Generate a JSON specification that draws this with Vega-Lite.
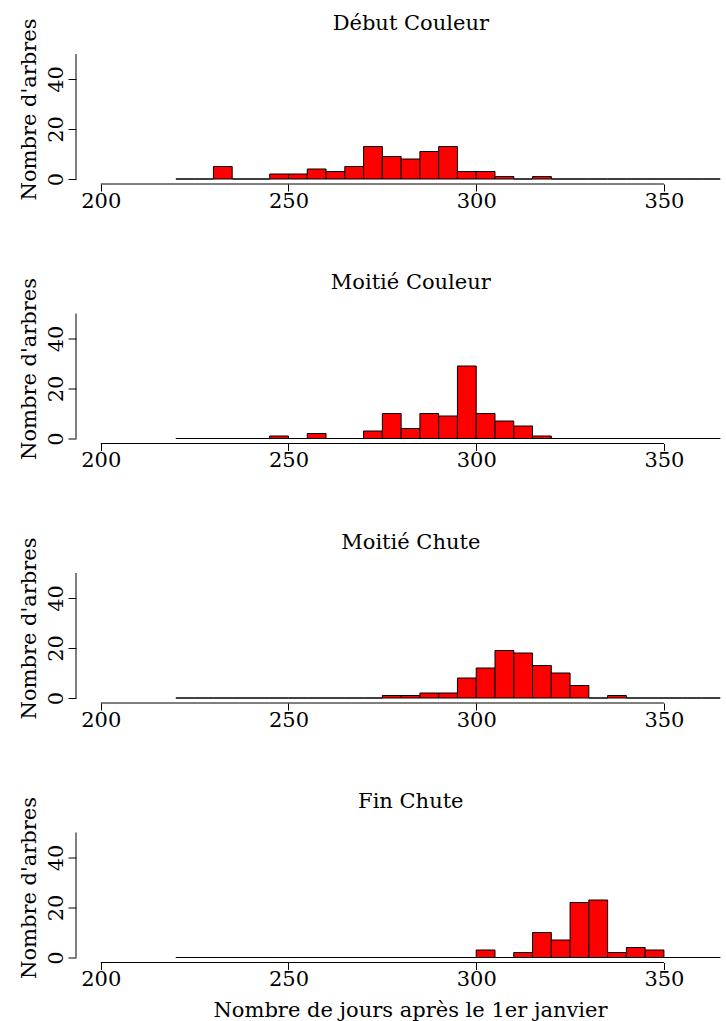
{
  "$schema": "https://vega.github.io/schema/vega-lite/v6.json",
  "background": "white",
  "padding": {"left": 17, "top": 12, "right": 0, "bottom": 0},
  "bounds": "flush",
  "spacing": 124.5,
  "config": {
    "view": {"stroke": null},
    "font": "DejaVu Serif",
    "title": {"font": "DejaVu Serif", "fontSize": 21, "fontWeight": "normal", "color": "black", "frame": "group", "dx": 10.8, "offset": -15.7, "baseline": "alphabetic"},
    "axis": {"domain": false, "grid": false, "tickColor": "black", "tickWidth": 1, "labelFont": "DejaVu Serif", "labelFontSize": 21, "labelColor": "black", "titleFont": "DejaVu Serif", "titleFontSize": 21, "titleFontWeight": "normal", "titleColor": "black", "labelOverlap": false, "labelFlush": false}
  },
  "data": {"values": [
    {"p":"Début Couleur","b":220,"e":225,"n":0},{"p":"Début Couleur","b":225,"e":230,"n":0},{"p":"Début Couleur","b":230,"e":235,"n":5},{"p":"Début Couleur","b":235,"e":240,"n":0},{"p":"Début Couleur","b":240,"e":245,"n":0},{"p":"Début Couleur","b":245,"e":250,"n":2},{"p":"Début Couleur","b":250,"e":255,"n":2},{"p":"Début Couleur","b":255,"e":260,"n":4},{"p":"Début Couleur","b":260,"e":265,"n":3},{"p":"Début Couleur","b":265,"e":270,"n":5},{"p":"Début Couleur","b":270,"e":275,"n":13},{"p":"Début Couleur","b":275,"e":280,"n":9},{"p":"Début Couleur","b":280,"e":285,"n":8},{"p":"Début Couleur","b":285,"e":290,"n":11},{"p":"Début Couleur","b":290,"e":295,"n":13},{"p":"Début Couleur","b":295,"e":300,"n":3},{"p":"Début Couleur","b":300,"e":305,"n":3},{"p":"Début Couleur","b":305,"e":310,"n":1},{"p":"Début Couleur","b":310,"e":315,"n":0},{"p":"Début Couleur","b":315,"e":320,"n":1},{"p":"Début Couleur","b":320,"e":325,"n":0},{"p":"Début Couleur","b":325,"e":330,"n":0},{"p":"Début Couleur","b":330,"e":335,"n":0},{"p":"Début Couleur","b":335,"e":340,"n":0},{"p":"Début Couleur","b":340,"e":345,"n":0},{"p":"Début Couleur","b":345,"e":350,"n":0},{"p":"Début Couleur","b":350,"e":355,"n":0},{"p":"Début Couleur","b":355,"e":360,"n":0},{"p":"Début Couleur","b":360,"e":365,"n":0},
    {"p":"Moitié Couleur","b":220,"e":225,"n":0},{"p":"Moitié Couleur","b":225,"e":230,"n":0},{"p":"Moitié Couleur","b":230,"e":235,"n":0},{"p":"Moitié Couleur","b":235,"e":240,"n":0},{"p":"Moitié Couleur","b":240,"e":245,"n":0},{"p":"Moitié Couleur","b":245,"e":250,"n":1},{"p":"Moitié Couleur","b":250,"e":255,"n":0},{"p":"Moitié Couleur","b":255,"e":260,"n":2},{"p":"Moitié Couleur","b":260,"e":265,"n":0},{"p":"Moitié Couleur","b":265,"e":270,"n":0},{"p":"Moitié Couleur","b":270,"e":275,"n":3},{"p":"Moitié Couleur","b":275,"e":280,"n":10},{"p":"Moitié Couleur","b":280,"e":285,"n":4},{"p":"Moitié Couleur","b":285,"e":290,"n":10},{"p":"Moitié Couleur","b":290,"e":295,"n":9},{"p":"Moitié Couleur","b":295,"e":300,"n":29},{"p":"Moitié Couleur","b":300,"e":305,"n":10},{"p":"Moitié Couleur","b":305,"e":310,"n":7},{"p":"Moitié Couleur","b":310,"e":315,"n":5},{"p":"Moitié Couleur","b":315,"e":320,"n":1},{"p":"Moitié Couleur","b":320,"e":325,"n":0},{"p":"Moitié Couleur","b":325,"e":330,"n":0},{"p":"Moitié Couleur","b":330,"e":335,"n":0},{"p":"Moitié Couleur","b":335,"e":340,"n":0},{"p":"Moitié Couleur","b":340,"e":345,"n":0},{"p":"Moitié Couleur","b":345,"e":350,"n":0},{"p":"Moitié Couleur","b":350,"e":355,"n":0},{"p":"Moitié Couleur","b":355,"e":360,"n":0},{"p":"Moitié Couleur","b":360,"e":365,"n":0},
    {"p":"Moitié Chute","b":220,"e":225,"n":0},{"p":"Moitié Chute","b":225,"e":230,"n":0},{"p":"Moitié Chute","b":230,"e":235,"n":0},{"p":"Moitié Chute","b":235,"e":240,"n":0},{"p":"Moitié Chute","b":240,"e":245,"n":0},{"p":"Moitié Chute","b":245,"e":250,"n":0},{"p":"Moitié Chute","b":250,"e":255,"n":0},{"p":"Moitié Chute","b":255,"e":260,"n":0},{"p":"Moitié Chute","b":260,"e":265,"n":0},{"p":"Moitié Chute","b":265,"e":270,"n":0},{"p":"Moitié Chute","b":270,"e":275,"n":0},{"p":"Moitié Chute","b":275,"e":280,"n":1},{"p":"Moitié Chute","b":280,"e":285,"n":1},{"p":"Moitié Chute","b":285,"e":290,"n":2},{"p":"Moitié Chute","b":290,"e":295,"n":2},{"p":"Moitié Chute","b":295,"e":300,"n":8},{"p":"Moitié Chute","b":300,"e":305,"n":12},{"p":"Moitié Chute","b":305,"e":310,"n":19},{"p":"Moitié Chute","b":310,"e":315,"n":18},{"p":"Moitié Chute","b":315,"e":320,"n":13},{"p":"Moitié Chute","b":320,"e":325,"n":10},{"p":"Moitié Chute","b":325,"e":330,"n":5},{"p":"Moitié Chute","b":330,"e":335,"n":0},{"p":"Moitié Chute","b":335,"e":340,"n":1},{"p":"Moitié Chute","b":340,"e":345,"n":0},{"p":"Moitié Chute","b":345,"e":350,"n":0},{"p":"Moitié Chute","b":350,"e":355,"n":0},{"p":"Moitié Chute","b":355,"e":360,"n":0},{"p":"Moitié Chute","b":360,"e":365,"n":0},
    {"p":"Fin Chute","b":220,"e":225,"n":0},{"p":"Fin Chute","b":225,"e":230,"n":0},{"p":"Fin Chute","b":230,"e":235,"n":0},{"p":"Fin Chute","b":235,"e":240,"n":0},{"p":"Fin Chute","b":240,"e":245,"n":0},{"p":"Fin Chute","b":245,"e":250,"n":0},{"p":"Fin Chute","b":250,"e":255,"n":0},{"p":"Fin Chute","b":255,"e":260,"n":0},{"p":"Fin Chute","b":260,"e":265,"n":0},{"p":"Fin Chute","b":265,"e":270,"n":0},{"p":"Fin Chute","b":270,"e":275,"n":0},{"p":"Fin Chute","b":275,"e":280,"n":0},{"p":"Fin Chute","b":280,"e":285,"n":0},{"p":"Fin Chute","b":285,"e":290,"n":0},{"p":"Fin Chute","b":290,"e":295,"n":0},{"p":"Fin Chute","b":295,"e":300,"n":0},{"p":"Fin Chute","b":300,"e":305,"n":3},{"p":"Fin Chute","b":305,"e":310,"n":0},{"p":"Fin Chute","b":310,"e":315,"n":2},{"p":"Fin Chute","b":315,"e":320,"n":10},{"p":"Fin Chute","b":320,"e":325,"n":7},{"p":"Fin Chute","b":325,"e":330,"n":22},{"p":"Fin Chute","b":330,"e":335,"n":23},{"p":"Fin Chute","b":335,"e":340,"n":2},{"p":"Fin Chute","b":340,"e":345,"n":4},{"p":"Fin Chute","b":345,"e":350,"n":3},{"p":"Fin Chute","b":350,"e":355,"n":0},{"p":"Fin Chute","b":355,"e":360,"n":0},{"p":"Fin Chute","b":360,"e":365,"n":0}
  ]},
  "vconcat": [
    {
      "title": "Début Couleur",
      "width": 648, "height": 135,
      "layer": [
        {"transform": [{"filter": "datum.p === 'Début Couleur'"}],
         "mark": {"type": "rect", "fill": "#ff0000", "stroke": "black", "strokeWidth": 1},
         "encoding": {
           "x": {"field": "b", "type": "quantitative", "scale": {"domain": [193.4, 366.0], "nice": false, "zero": false}, "axis": {"values": [200, 250, 300, 350], "tickSize": 7, "labelPadding": -1, "title": null}},
           "x2": {"field": "e"},
           "y": {"field": "n", "type": "quantitative", "scale": {"domain": [-2, 52], "nice": false, "zero": false}, "axis": {"values": [0, 10, 20, 30, 40, 50], "tickSize": 8, "labelAngle": -90, "labelAlign": "center", "labelBaseline": "alphabetic", "labelPadding": 6, "labelExpr": "datum.value % 20 === 0 && datum.value < 50 ? datum.label : ''", "title": "Nombre d'arbres", "titlePadding": 6, "titleY": 60}},
           "y2": {"datum": 0}
         }},
        {"data": {"values": [{}]}, "mark": {"type": "rule", "color": "black", "strokeWidth": 1}, "encoding": {"x": {"datum": 200}, "x2": {"datum": 350}, "y": {"datum": -2}}},
        {"data": {"values": [{}]}, "mark": {"type": "rule", "color": "black", "strokeWidth": 1}, "encoding": {"x": {"datum": 193.4}, "y": {"datum": 0}, "y2": {"datum": 50}}}
      ]
    },
    {
      "title": "Moitié Couleur",
      "width": 648, "height": 135,
      "layer": [
        {"transform": [{"filter": "datum.p === 'Moitié Couleur'"}],
         "mark": {"type": "rect", "fill": "#ff0000", "stroke": "black", "strokeWidth": 1},
         "encoding": {
           "x": {"field": "b", "type": "quantitative", "scale": {"domain": [193.4, 366.0], "nice": false, "zero": false}, "axis": {"values": [200, 250, 300, 350], "tickSize": 7, "labelPadding": -1, "title": null}},
           "x2": {"field": "e"},
           "y": {"field": "n", "type": "quantitative", "scale": {"domain": [-2, 52], "nice": false, "zero": false}, "axis": {"values": [0, 10, 20, 30, 40, 50], "tickSize": 8, "labelAngle": -90, "labelAlign": "center", "labelBaseline": "alphabetic", "labelPadding": 6, "labelExpr": "datum.value % 20 === 0 && datum.value < 50 ? datum.label : ''", "title": "Nombre d'arbres", "titlePadding": 6, "titleY": 60}},
           "y2": {"datum": 0}
         }},
        {"data": {"values": [{}]}, "mark": {"type": "rule", "color": "black", "strokeWidth": 1}, "encoding": {"x": {"datum": 200}, "x2": {"datum": 350}, "y": {"datum": -2}}},
        {"data": {"values": [{}]}, "mark": {"type": "rule", "color": "black", "strokeWidth": 1}, "encoding": {"x": {"datum": 193.4}, "y": {"datum": 0}, "y2": {"datum": 50}}}
      ]
    },
    {
      "title": "Moitié Chute",
      "width": 648, "height": 135,
      "layer": [
        {"transform": [{"filter": "datum.p === 'Moitié Chute'"}],
         "mark": {"type": "rect", "fill": "#ff0000", "stroke": "black", "strokeWidth": 1},
         "encoding": {
           "x": {"field": "b", "type": "quantitative", "scale": {"domain": [193.4, 366.0], "nice": false, "zero": false}, "axis": {"values": [200, 250, 300, 350], "tickSize": 7, "labelPadding": -1, "title": null}},
           "x2": {"field": "e"},
           "y": {"field": "n", "type": "quantitative", "scale": {"domain": [-2, 52], "nice": false, "zero": false}, "axis": {"values": [0, 10, 20, 30, 40, 50], "tickSize": 8, "labelAngle": -90, "labelAlign": "center", "labelBaseline": "alphabetic", "labelPadding": 6, "labelExpr": "datum.value % 20 === 0 && datum.value < 50 ? datum.label : ''", "title": "Nombre d'arbres", "titlePadding": 6, "titleY": 60}},
           "y2": {"datum": 0}
         }},
        {"data": {"values": [{}]}, "mark": {"type": "rule", "color": "black", "strokeWidth": 1}, "encoding": {"x": {"datum": 200}, "x2": {"datum": 350}, "y": {"datum": -2}}},
        {"data": {"values": [{}]}, "mark": {"type": "rule", "color": "black", "strokeWidth": 1}, "encoding": {"x": {"datum": 193.4}, "y": {"datum": 0}, "y2": {"datum": 50}}}
      ]
    },
    {
      "title": "Fin Chute",
      "width": 648, "height": 135,
      "layer": [
        {"transform": [{"filter": "datum.p === 'Fin Chute'"}],
         "mark": {"type": "rect", "fill": "#ff0000", "stroke": "black", "strokeWidth": 1},
         "encoding": {
           "x": {"field": "b", "type": "quantitative", "scale": {"domain": [193.4, 366.0], "nice": false, "zero": false}, "axis": {"values": [200, 250, 300, 350], "tickSize": 7, "labelPadding": -1, "title": "Nombre de jours après le 1er janvier", "titlePadding": 10, "titleX": 334}},
           "x2": {"field": "e"},
           "y": {"field": "n", "type": "quantitative", "scale": {"domain": [-2, 52], "nice": false, "zero": false}, "axis": {"values": [0, 10, 20, 30, 40, 50], "tickSize": 8, "labelAngle": -90, "labelAlign": "center", "labelBaseline": "alphabetic", "labelPadding": 6, "labelExpr": "datum.value % 20 === 0 && datum.value < 50 ? datum.label : ''", "title": "Nombre d'arbres", "titlePadding": 6, "titleY": 60}},
           "y2": {"datum": 0}
         }},
        {"data": {"values": [{}]}, "mark": {"type": "rule", "color": "black", "strokeWidth": 1}, "encoding": {"x": {"datum": 200}, "x2": {"datum": 350}, "y": {"datum": -2}}},
        {"data": {"values": [{}]}, "mark": {"type": "rule", "color": "black", "strokeWidth": 1}, "encoding": {"x": {"datum": 193.4}, "y": {"datum": 0}, "y2": {"datum": 50}}}
      ]
    }
  ]
}
